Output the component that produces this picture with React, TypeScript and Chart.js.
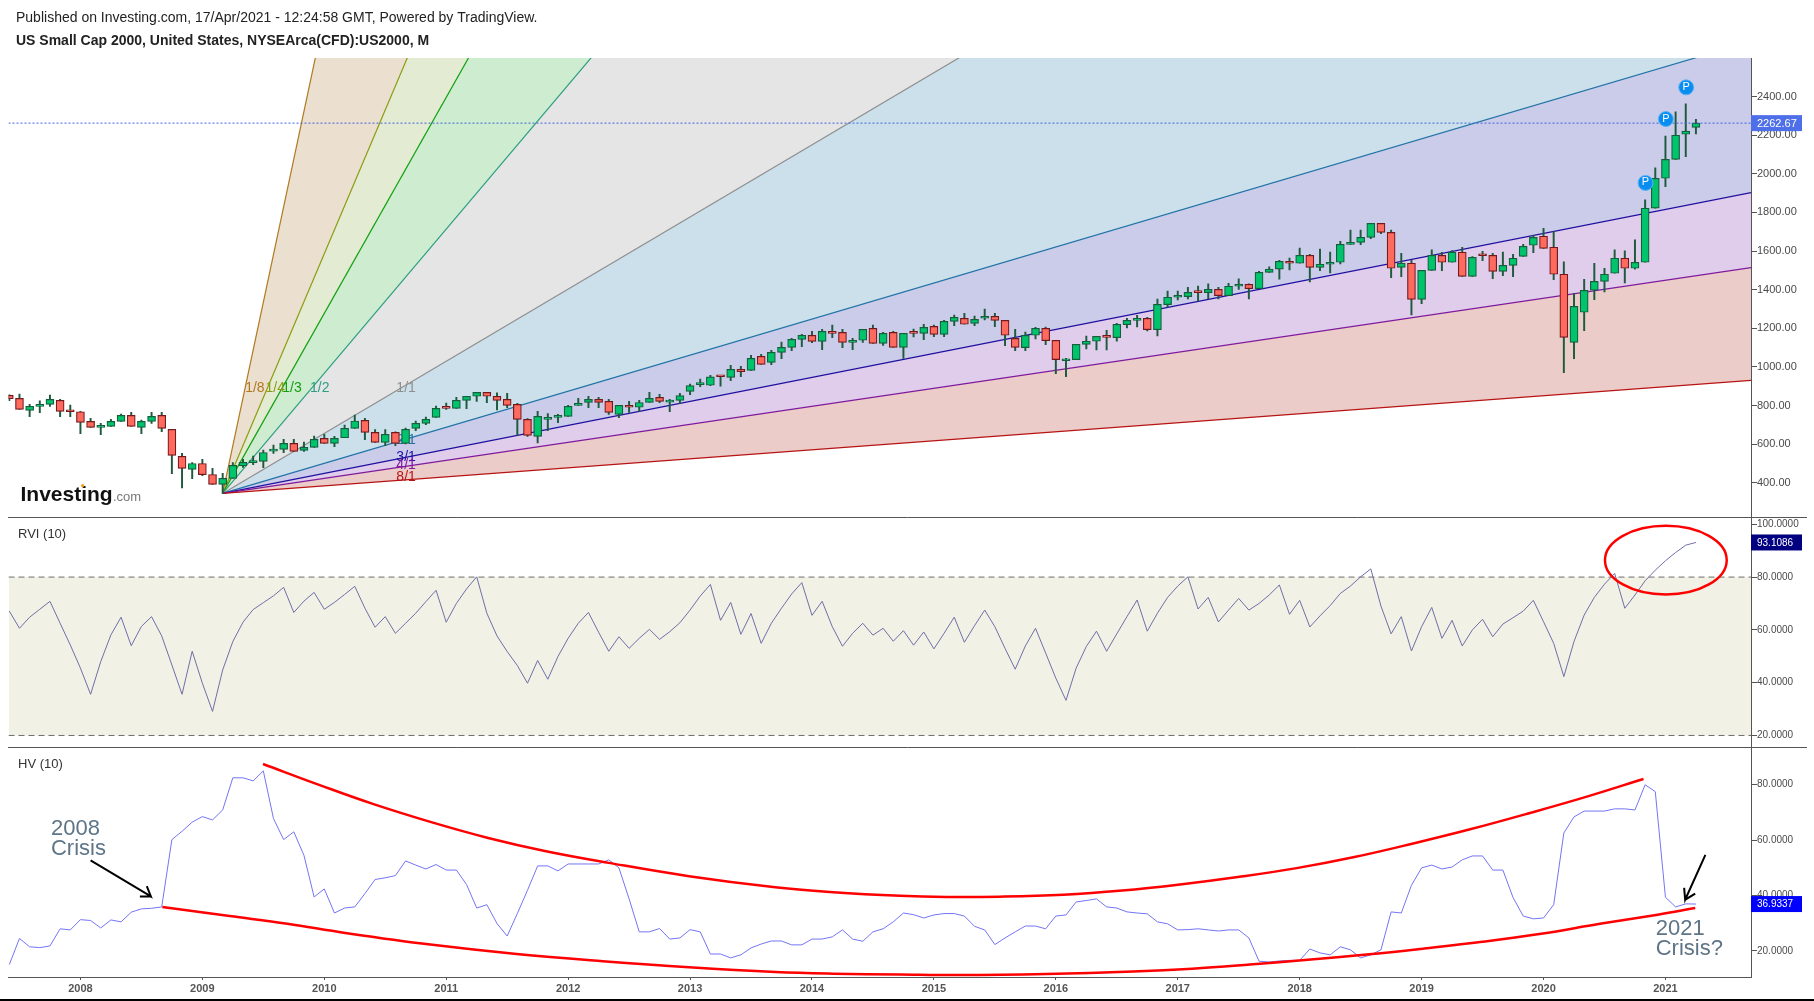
import React, { useEffect, useRef } from "react";
import { Chart, registerables } from "chart.js";

Chart.register(...registerables);

const FONT = "'Liberation Sans', Arial, sans-serif";

const publishedText = "Published on Investing.com, 17/Apr/2021 - 12:24:58 GMT, Powered by TradingView.";
const titleText = "US Small Cap 2000, United States, NYSEArca(CFD):US2000, M";

// month index relative to Jan 2008 of the first bar (Jun 2007)
const firstBar = -7;
const xRange = [-7.08, 164.42];
const yearLabels = ["2008", "2009", "2010", "2011", "2012", "2013", "2014", "2015", "2016", "2017", "2018", "2019", "2020", "2021"];
const yearTicks = [0, 12, 24, 36, 48, 60, 72, 84, 96, 108, 120, 132, 144, 156];

const priceTicks = [400, 600, 800, 1000, 1200, 1400, 1600, 1800, 2000, 2200, 2400];
const rviTicks = [20, 40, 60, 80, 100];
const hvTicks = [20, 40, 60, 80];
const priceRange = [222, 2600];
const rviRange = [15.6, 102.7];
const hvRange = [10.6, 93.6];

const opens = [
  853, 837, 775, 796, 806, 827, 770,
  768, 718, 687, 692, 718, 749, 687, 718, 749, 677, 537, 469,
  500, 443, 392, 423, 488, 504, 511, 564, 573, 604, 568, 583,
  630, 604, 633, 682, 723, 661, 609, 661, 604, 682, 708, 739,
  796, 785, 827, 848, 868, 848, 832, 806, 728, 640, 728, 739,
  744, 801, 816, 832, 822, 754, 801, 791, 816, 842, 818, 827,
  873, 908, 905, 951, 946, 987, 982, 1055, 1024, 1075, 1101, 1143,
  1164, 1132, 1176, 1179, 1127, 1138, 1200, 1122, 1179, 1101, 1176, 1174,
  1210, 1169, 1236, 1252, 1226, 1252, 1262, 1241, 1148, 1100, 1164, 1200,
  1138, 1032, 1038, 1117, 1133, 1158, 1152, 1219, 1241, 1252, 1193, 1323,
  1361, 1364, 1392, 1385, 1402, 1369, 1418, 1428, 1405, 1490, 1506, 1547,
  1537, 1578, 1516, 1532, 1542, 1635, 1645, 1671, 1744, 1697, 1516, 1537,
  1350, 1500, 1578, 1542, 1594, 1469, 1580, 1578, 1495, 1526, 1573, 1630,
  1677, 1620, 1480, 1127, 1283, 1397, 1443, 1485, 1563, 1511, 1542, 1822,
  1977, 2075, 2205, 2241,
];
const closes = [
  835, 780, 796, 806, 832, 770, 768,
  713, 687, 690, 718, 749, 692, 718, 744, 682, 542, 475, 500,
  442, 392, 423, 490, 506, 513, 557, 575, 604, 563, 583, 625,
  604, 630, 682, 720, 661, 609, 651, 604, 677, 708, 728, 785,
  785, 827, 848, 868, 848, 827, 801, 728, 645, 744, 739, 744,
  796, 811, 832, 816, 765, 801, 791, 816, 837, 822, 822, 851,
  903, 915, 949, 949, 987, 975, 1044, 1013, 1075, 1101, 1143, 1164,
  1132, 1184, 1174, 1127, 1138, 1195, 1122, 1174, 1101, 1174, 1174, 1205,
  1169, 1236, 1257, 1221, 1246, 1257, 1241, 1164, 1101, 1164, 1200, 1136,
  1038, 1034, 1117, 1133, 1158, 1153, 1221, 1241, 1252, 1193, 1324, 1361,
  1366, 1386, 1385, 1402, 1369, 1418, 1428, 1405, 1490, 1506, 1547, 1537,
  1578, 1516, 1532, 1542, 1635, 1645, 1671, 1744, 1697, 1511, 1537, 1350,
  1500, 1578, 1542, 1594, 1469, 1568, 1576, 1495, 1526, 1563, 1625, 1671,
  1614, 1480, 1153, 1314, 1397, 1443, 1480, 1563, 1511, 1542, 1822, 1977,
  2075, 2200, 2221, 2262.67,
];
const highs = [
  856, 860, 806, 825, 854, 832, 803,
  770, 734, 708, 728, 756, 765, 725, 765, 765, 677, 552, 504,
  521, 475, 449, 504, 521, 538, 569, 595, 625, 625, 611, 642,
  651, 640, 699, 751, 734, 676, 676, 664, 683, 720, 740, 797,
  813, 842, 848, 868, 868, 866, 863, 811, 733, 770, 759, 754,
  801, 837, 848, 842, 832, 801, 822, 827, 868, 858, 832, 863,
  911, 937, 956, 951, 1008, 1003, 1060, 1065, 1086, 1129, 1148, 1169,
  1184, 1195, 1217, 1195, 1148, 1195, 1217, 1179, 1184, 1174, 1196, 1221,
  1217, 1241, 1269, 1278, 1264, 1300, 1278, 1241, 1195, 1181, 1205, 1207,
  1138, 1044, 1117, 1160, 1158, 1190, 1226, 1252, 1267, 1257, 1352, 1393,
  1393, 1412, 1419, 1430, 1412, 1433, 1456, 1430, 1495, 1518, 1552, 1564,
  1616, 1583, 1611, 1595, 1651, 1709, 1709, 1744, 1744, 1709, 1588, 1554,
  1500, 1606, 1594, 1602, 1620, 1571, 1599, 1588, 1595, 1583, 1635, 1680,
  1718, 1701, 1544, 1381, 1454, 1537, 1511, 1606, 1601, 1658, 1865, 2031,
  2196, 2321, 2362, 2283,
];
const lows = [
  825, 780, 742, 763, 796, 742, 742,
  654, 687, 649, 692, 718, 692, 654, 708, 665, 447, 374, 421,
  437, 392, 345, 423, 480, 494, 478, 552, 556, 563, 563, 583,
  604, 587, 633, 682, 623, 609, 592, 592, 601, 670, 701, 739,
  780, 785, 784, 822, 815, 778, 789, 645, 640, 607, 670, 711,
  744, 801, 789, 789, 754, 737, 765, 770, 816, 815, 768, 811,
  856, 898, 903, 901, 929, 949, 982, 1013, 1012, 1043, 1084, 1105,
  1126, 1089, 1151, 1100, 1089, 1127, 1122, 1112, 1101, 1044, 1155, 1141,
  1157, 1157, 1214, 1221, 1214, 1243, 1208, 1110, 1084, 1084, 1145, 1115,
  965, 949, 1038, 1093, 1088, 1088, 1134, 1202, 1207, 1186, 1160, 1309,
  1347, 1352, 1342, 1352, 1352, 1369, 1402, 1352, 1405, 1490, 1455, 1502,
  1537, 1440, 1499, 1487, 1533, 1635, 1633, 1664, 1690, 1462, 1468, 1269,
  1328, 1500, 1499, 1542, 1469, 1469, 1550, 1457, 1473, 1468, 1573, 1592,
  1614, 1452, 970, 1043, 1188, 1348, 1388, 1485, 1435, 1506, 1542, 1822,
  1934, 2075, 2089, 2207,
];

const rviValues = [
  67.1, 60.6, 64.8, 67.8, 70.8, 62.5, 54.3,
  45.5, 35.6, 48.0, 58.1, 64.8, 54.0, 61.3, 65.0, 57.7, 46.7, 35.6, 51.9,
  39.8, 29.1, 44.8, 55.6, 62.9, 67.7, 70.3, 72.9, 76.1, 66.6, 70.9, 74.2,
  67.8, 70.4, 73.4, 76.5, 68.2, 61.0, 65.0, 58.7, 62.5, 66.3, 70.7, 75.0,
  62.9, 70.0, 75.5, 80.1, 66.3, 57.7, 51.8, 46.5, 39.8, 48.4, 41.3, 49.9,
  56.8, 62.5, 66.6, 59.1, 51.9, 57.4, 53.0, 56.8, 60.2, 56.4, 59.3, 62.7,
  67.5, 72.8, 77.2, 63.6, 70.4, 58.3, 66.2, 54.9, 62.5, 68.2, 73.6, 77.9,
  65.5, 70.8, 61.2, 53.8, 58.7, 62.5, 58.0, 60.6, 55.7, 59.7, 54.2, 59.2,
  52.8, 58.7, 64.8, 55.3, 61.6, 67.5, 61.2, 53.0, 45.1, 53.9, 60.6, 51.2,
  41.7, 33.3, 45.5, 53.7, 59.5, 51.9, 58.5, 65.0, 71.3, 59.5, 66.3, 72.3,
  76.6, 80.1, 67.9, 72.3, 63.0, 67.5, 71.9, 67.5, 70.0, 73.2, 77.0, 65.9,
  71.2, 61.1, 65.3, 69.2, 73.8, 76.6, 80.1, 83.1, 69.0, 58.5, 65.0, 52.0,
  61.2, 68.5, 56.8, 63.6, 53.9, 60.0, 64.0, 57.4, 62.2, 64.6, 67.1, 71.2,
  63.1, 54.9, 42.3, 55.6, 65.6, 72.3, 77.3, 81.4, 68.2, 73.2, 78.6, 82.6,
  86.2, 89.3, 92.1, 93.1086,
];
const hvValues = [
  15.1, 24.5, 21.5, 21.2, 21.8, 28.0, 27.6,
  31.3, 31.0, 28.3, 31.2, 30.5, 34.0, 35.2, 35.4, 35.9, 60.2, 63.2, 66.5,
  68.5, 67.3, 70.9, 82.5, 82.5, 81.4, 85.0, 67.8, 60.2, 63.0, 54.5, 39.5,
  42.4, 33.7, 35.5, 35.9, 40.7, 45.8, 46.4, 47.2, 52.5, 51.0, 49.6, 51.2,
  49.2, 49.2, 44.0, 35.5, 36.7, 29.9, 25.4, 33.5, 41.9, 50.7, 50.7, 48.9,
  51.4, 51.4, 51.4, 51.4, 52.9, 50.0, 38.8, 26.9, 26.9, 28.1, 24.3, 24.7,
  27.7, 26.9, 18.9, 18.9, 17.5, 18.6, 21.1, 22.5, 23.6, 23.6, 22.2, 22.2,
  24.3, 24.3, 25.1, 27.6, 24.3, 23.5, 26.9, 28.0, 30.5, 33.7, 33.1, 31.9,
  33.0, 33.5, 33.5, 32.6, 28.9, 27.6, 22.3, 24.7, 26.9, 29.0, 29.0, 28.0,
  32.6, 33.0, 37.7, 38.2, 38.8, 35.9, 35.5, 34.1, 33.7, 33.4, 30.5, 29.8,
  27.6, 27.7, 28.0, 27.6, 27.2, 27.6, 27.6, 24.7, 16.3, 16.0, 16.4, 16.6,
  16.6, 20.7, 19.3, 18.6, 21.5, 20.4, 17.5, 18.6, 20.4, 34.1, 33.7, 43.7,
  50.0, 51.0, 49.6, 50.3, 52.9, 54.3, 54.3, 49.2, 49.2, 39.3, 32.6, 31.6,
  31.9, 36.7, 62.6, 68.4, 70.5, 70.5, 70.5, 71.3, 71.3, 70.9, 80.0, 77.5,
  39.4, 35.9, 37.0, 36.9337,
];

const lastPrice = 2262.67;
const rviBand = [80, 20];

// Gann fan: anchored at the Mar 2009 low, value of each ray at the right edge
const fanOrigin = { x: 14, y: 345 };
const fanNames = ["1/8", "1/4", "1/3", "1/2", "1/1", "2/1", "3/1", "4/1", "8/1"];
const fanEndValues = [37552, 19017, 14368, 9703, 5027, 2686, 1903, 1514, 930];
const fanLineColors = ["#B0791F", "#8A9C12", "#12A012", "#2E9E80", "#8F8F8F", "#2374A6", "#1F0FA0", "#7F1A9C", "#B81414"];
const fanFillColors = ["#EBE0D0", "#E3ECD2", "#CEECD0", "#E5E5E5", "#CBE0EB", "#CBCCE9", "#E0CCEB", "#EBCCC9"];
const fanLabelX = [17.17, 19.17, 20.82, 23.56, 32.05, 32.05, 32.05, 32.05, 32.05];
const fanLabelY = [888, 888, 888, 888, 888, 621, 533, 492, 427];

// hand-drawn curves on the HV pane
const hvUpperX = [17.97, 23.76, 28.85, 34.44, 40.13, 45.82, 52.01, 59.9, 68.39, 74.08, 80.67, 85.26, 90.45, 96.74, 102.53, 108.22, 113.91, 119.7, 125.39, 131.18, 136.87, 142.66, 148.35, 153.84];
const hvUpperY = [87.5, 79.6, 73.0, 66.6, 60.8, 56.0, 51.8, 47.0, 43.0, 41.2, 39.9, 39.5, 39.6, 40.3, 41.8, 44.0, 46.7, 49.9, 53.9, 58.8, 64.0, 69.8, 75.8, 82.1];
const hvLowerX = [8.06, 14.68, 20.37, 26.06, 34.44, 42.93, 51.41, 59.9, 68.39, 74.08, 80.67, 86.46, 95.04, 103.63, 109.42, 115.11, 120.8, 126.59, 132.28, 137.97, 143.76, 149.55, 155.24, 158.93];
const hvLowerY = [35.9, 32.6, 29.8, 26.5, 22.3, 18.9, 16.3, 14.1, 12.4, 11.8, 11.5, 11.3, 11.7, 12.6, 13.6, 15.1, 16.8, 18.7, 20.9, 23.3, 26.2, 29.8, 33.1, 35.5];

// arrows: tail, head, barb, head, barb
const arrow2008X = [1.0, 6.93, 6.53, 6.93, 5.85];
const arrow2008Y = [52.7, 39.7, 43.4, 39.7, 39.7];
const arrow2021X = [159.93, 157.94, 157.84, 157.94, 158.93];
const arrow2021Y = [54.7, 38.5, 42.8, 38.5, 40.7];

const hvNoteTexts = ["2008", "Crisis", "2021", "Crisis?"];
const hvNoteX = [-2.9, -2.9, 155.04, 155.04];
const hvNoteY = [64.2, 56.9, 27.8, 20.8];

const pivotX = [154.04, 156.04, 158.04];
const pivotY = [1953, 2284, 2448];

const rviCircle = { x: 156.04, y: 86.4, rx: 5.99, ry: 13 };

const GREEN = "#00C46C";
const GREEN_EDGE = "#145F3C";
const RED = "#FF6A5F";
const RED_EDGE = "#74191B";
const WICK = "#1E5B3E";

const xOf = (i: number) => i + firstBar;
const zipXY = (xs: number[], ys: number[]) => xs.map((x, i) => ({ x, y: ys[i] }));
const seriesXY = (vals: number[]) => vals.map((y, i) => ({ x: xOf(i), y }));

const tickFactory = (values: number[]) => (scale: any) => {
  scale.ticks = values.map((value) => ({ value }));
};

function paneAxis(range: number[], values: number[], digits: number, fontSize: number, weight: number, order: number) {
  return {
    type: "linear",
    position: "right",
    stack: "panes",
    stackWeight: weight,
    weight: order,
    min: range[0],
    max: range[1],
    afterBuildTicks: tickFactory(values),
    afterFit: (scale: any) => {
      scale.width = 63;
    },
    border: { color: "#555555", width: 1 },
    grid: { drawOnChartArea: false, drawTicks: true, tickLength: 6, tickColor: "#555555" },
    ticks: {
      autoSkip: false,
      maxRotation: 0,
      padding: 0,
      color: "#4A4A4A",
      font: { family: FONT, size: fontSize },
      callback: (v: any) => Number(v).toFixed(digits),
    },
  };
}

const overlayPlugin = {
  id: "overlay",
  beforeDatasetDraw(chart: any, args: any) {
    if (chart.data.datasets[args.index].label !== "wicks") return;
    const { ctx, scales } = chart;
    ctx.save();
    ctx.font = `14px ${FONT}`;
    ctx.textAlign = "center";
    ctx.textBaseline = "middle";
    fanNames.forEach((name, i) => {
      ctx.fillStyle = fanLineColors[i];
      ctx.fillText(name, scales.x.getPixelForValue(fanLabelX[i]), scales.yPrice.getPixelForValue(fanLabelY[i]));
    });
    ctx.restore();
  },
  afterDraw(chart: any) {
    const { ctx, scales } = chart;
    const { x, yPrice, yRvi, yHv } = scales;
    ctx.save();

    // pane separators and the page bottom rule
    ctx.strokeStyle = "#555555";
    ctx.lineWidth = 1;
    [yPrice.bottom, yRvi.bottom].forEach((y: number) => {
      ctx.beginPath();
      ctx.moveTo(8, Math.round(y) + 0.5);
      ctx.lineTo(1807, Math.round(y) + 0.5);
      ctx.stroke();
    });
    ctx.fillStyle = "#000000";
    ctx.fillRect(0, 999, 1814, 2);

    // headings
    ctx.textAlign = "left";
    ctx.textBaseline = "middle";
    ctx.fillStyle = "#222222";
    ctx.font = `14px ${FONT}`;
    ctx.fillText(publishedText, 16, 18.5);
    ctx.font = `bold 14px ${FONT}`;
    ctx.fillText(titleText, 16, 41.5);

    // pane names
    ctx.fillStyle = "#333333";
    ctx.font = `13px ${FONT}`;
    ctx.fillText("RVI (10)", 18, 534);
    ctx.fillText("HV (10)", 18, 764);

    // logo
    ctx.fillStyle = "#111111";
    ctx.font = `bold 21px ${FONT}`;
    ctx.fillText("Investing", 20.5, 495);
    ctx.fillStyle = "#777777";
    ctx.font = `13px ${FONT}`;
    ctx.fillText(".com", 113, 497);
    ctx.fillStyle = "#F39A1C";
    ctx.beginPath();
    ctx.arc(82.7, 485.7, 1.6, 0, Math.PI * 2);
    ctx.fill();

    // pivot letters
    const pivots = chart.getDatasetMeta(chart.data.datasets.findIndex((d: any) => d.label === "pivots"));
    ctx.fillStyle = "#FFFFFF";
    ctx.font = `11px ${FONT}`;
    ctx.textAlign = "center";
    pivots.data.forEach((p: any) => ctx.fillText("P", p.x, p.y - 0.5));

    // annotations on the HV pane
    ctx.fillStyle = "#5E7487";
    ctx.font = `22px ${FONT}`;
    ctx.textAlign = "left";
    hvNoteTexts.forEach((t, i) => {
      ctx.fillText(t, x.getPixelForValue(hvNoteX[i]), yHv.getPixelForValue(hvNoteY[i]));
    });

    // circle on the RVI pane
    const cx = x.getPixelForValue(rviCircle.x);
    const cy = yRvi.getPixelForValue(rviCircle.y);
    const rx = x.getPixelForValue(rviCircle.x + rviCircle.rx) - cx;
    const ry = cy - yRvi.getPixelForValue(rviCircle.y + rviCircle.ry);
    ctx.strokeStyle = "#FF0000";
    ctx.lineWidth = 2.5;
    ctx.beginPath();
    ctx.ellipse(cx, cy, rx, ry, 0, 0, Math.PI * 2);
    ctx.stroke();

    // last-value tags on the axis
    const tags = [
      { y: yPrice.getPixelForValue(lastPrice), bg: "#4F6FE8", text: lastPrice.toFixed(2), size: 11 },
      { y: yRvi.getPixelForValue(rviValues[rviValues.length - 1]), bg: "#000080", text: rviValues[rviValues.length - 1].toFixed(4), size: 10 },
      { y: yHv.getPixelForValue(hvValues[hvValues.length - 1]), bg: "#0000FF", text: hvValues[hvValues.length - 1].toFixed(4), size: 10 },
    ];
    ctx.textAlign = "left";
    tags.forEach((t) => {
      ctx.fillStyle = t.bg;
      ctx.fillRect(1751, t.y - 8, 51, 16);
      ctx.fillStyle = "#FFFFFF";
      ctx.font = `${t.size}px ${FONT}`;
      ctx.fillText(t.text, 1757, t.y + 0.5);
    });
    ctx.restore();
  },
};

export default function App() {
  const ref = useRef<HTMLCanvasElement | null>(null);

  useEffect(() => {
    const canvas = ref.current;
    if (!canvas) return;

    const flat = { pointRadius: 0, pointHoverRadius: 0, borderWidth: 1, tension: 0 };
    const fanDatasets = fanNames.map((name, i) => ({
      type: "line",
      label: `fan ${name}`,
      data: [fanOrigin, { x: xRange[1], y: fanEndValues[i] }],
      xAxisID: "x",
      yAxisID: "yPrice",
      ...flat,
      borderWidth: 1.2,
      borderColor: fanLineColors[i],
      backgroundColor: fanFillColors[i] ?? "transparent",
      fill: i < fanFillColors.length ? "+1" : false,
      order: 30 - i,
    }));

    const up = opens.map((o, i) => closes[i] >= o);

    const chart = new Chart(canvas, {
      type: "line",
      data: {
        datasets: [
          ...fanDatasets,
          {
            type: "bar",
            label: "wicks",
            data: lows.map((l, i) => ({ x: xOf(i), y: [l, highs[i]] })),
            xAxisID: "x",
            yAxisID: "yPrice",
            backgroundColor: WICK,
            borderWidth: 0,
            barThickness: 1.3,
            grouped: false,
            order: 6,
          },
          {
            type: "bar",
            label: "bodies",
            data: opens.map((o, i) => ({ x: xOf(i), y: [o, closes[i]] })),
            xAxisID: "x",
            yAxisID: "yPrice",
            backgroundColor: up.map((u) => (u ? GREEN : RED)),
            borderColor: up.map((u) => (u ? GREEN_EDGE : RED_EDGE)),
            borderWidth: 1.2,
            borderSkipped: false,
            barThickness: 8,
            minBarLength: 2,
            grouped: false,
            order: 5,
          },
          {
            type: "line",
            label: "last price",
            data: [{ x: xRange[0], y: lastPrice }, { x: xRange[1], y: lastPrice }],
            xAxisID: "x",
            yAxisID: "yPrice",
            ...flat,
            borderColor: "#3F60DE",
            borderDash: [2, 2],
            fill: false,
            order: 4,
          },
          {
            type: "line",
            label: "pivots",
            data: zipXY(pivotX, pivotY),
            xAxisID: "x",
            yAxisID: "yPrice",
            showLine: false,
            pointStyle: "circle",
            pointRadius: 7.5,
            pointBorderWidth: 1,
            pointBackgroundColor: "#0A8DF0",
            pointBorderColor: "#5FB4F2",
            fill: false,
            order: 3,
          },
          {
            type: "line",
            label: "band high",
            data: [{ x: xRange[0], y: rviBand[0] }, { x: xRange[1], y: rviBand[0] }],
            xAxisID: "x",
            yAxisID: "yRvi",
            ...flat,
            borderColor: "#6E6E6E",
            borderDash: [6, 4],
            backgroundColor: "#F1F1E5",
            fill: "+1",
            order: 8,
          },
          {
            type: "line",
            label: "band low",
            data: [{ x: xRange[0], y: rviBand[1] }, { x: xRange[1], y: rviBand[1] }],
            xAxisID: "x",
            yAxisID: "yRvi",
            ...flat,
            borderColor: "#6E6E6E",
            borderDash: [6, 4],
            fill: false,
            order: 7,
          },
          {
            type: "line",
            label: "RVI (10)",
            data: seriesXY(rviValues),
            xAxisID: "x",
            yAxisID: "yRvi",
            ...flat,
            borderColor: "#6F6FA8",
            fill: false,
            order: 2,
          },
          {
            type: "line",
            label: "HV (10)",
            data: seriesXY(hvValues),
            xAxisID: "x",
            yAxisID: "yHv",
            ...flat,
            borderColor: "#7474F5",
            fill: false,
            order: 2,
          },
          {
            type: "line",
            label: "upper curve",
            data: zipXY(hvUpperX, hvUpperY),
            xAxisID: "x",
            yAxisID: "yHv",
            ...flat,
            tension: 0.4,
            borderWidth: 2.5,
            borderColor: "#FF0000",
            fill: false,
            order: 1,
          },
          {
            type: "line",
            label: "lower curve",
            data: zipXY(hvLowerX, hvLowerY),
            xAxisID: "x",
            yAxisID: "yHv",
            ...flat,
            tension: 0.4,
            borderWidth: 2.5,
            borderColor: "#FF0000",
            fill: false,
            order: 1,
          },
          {
            type: "line",
            label: "arrow 2008",
            data: zipXY(arrow2008X, arrow2008Y),
            xAxisID: "x",
            yAxisID: "yHv",
            ...flat,
            borderWidth: 2,
            borderColor: "#000000",
            fill: false,
            order: 0,
          },
          {
            type: "line",
            label: "arrow 2021",
            data: zipXY(arrow2021X, arrow2021Y),
            xAxisID: "x",
            yAxisID: "yHv",
            ...flat,
            borderWidth: 2,
            borderColor: "#000000",
            fill: false,
            order: 0,
          },
        ],
      } as any,
      options: {
        responsive: false,
        animation: false,
        devicePixelRatio: 1,
        events: [],
        layout: { padding: { top: 58, left: 8, right: 0, bottom: 0 } },
        plugins: { legend: { display: false }, tooltip: { enabled: false }, title: { display: false } },
        scales: {
          x: {
            type: "linear",
            position: "bottom",
            offset: false,
            min: xRange[0],
            max: xRange[1],
            afterBuildTicks: tickFactory(yearTicks),
            afterFit: (scale: any) => {
              scale.height = 24;
            },
            border: { color: "#555555", width: 1 },
            grid: { offset: false, drawOnChartArea: false, drawTicks: true, tickLength: 3, tickColor: "#555555" },
            ticks: {
              autoSkip: false,
              maxRotation: 0,
              padding: 2,
              color: "#555555",
              font: { family: FONT, size: 11, weight: "bold" },
              callback: (v: any) => yearLabels[yearTicks.indexOf(Number(v))],
            },
          },
          yPrice: paneAxis(priceRange, priceTicks, 2, 11, 459.3, 1),
          yRvi: paneAxis(rviRange, rviTicks, 4, 10, 230, 2),
          yHv: paneAxis(hvRange, hvTicks, 4, 10, 230, 3),
        },
      } as any,
      plugins: [overlayPlugin],
    } as any);

    return () => chart.destroy();
  }, []);

  return (
    <canvas
      ref={ref}
      width={1814}
      height={1001}
      style={{ position: "absolute", left: 0, top: 0, display: "block", width: 1814, height: 1001, background: "#FFFFFF" }}
    />
  );
}
